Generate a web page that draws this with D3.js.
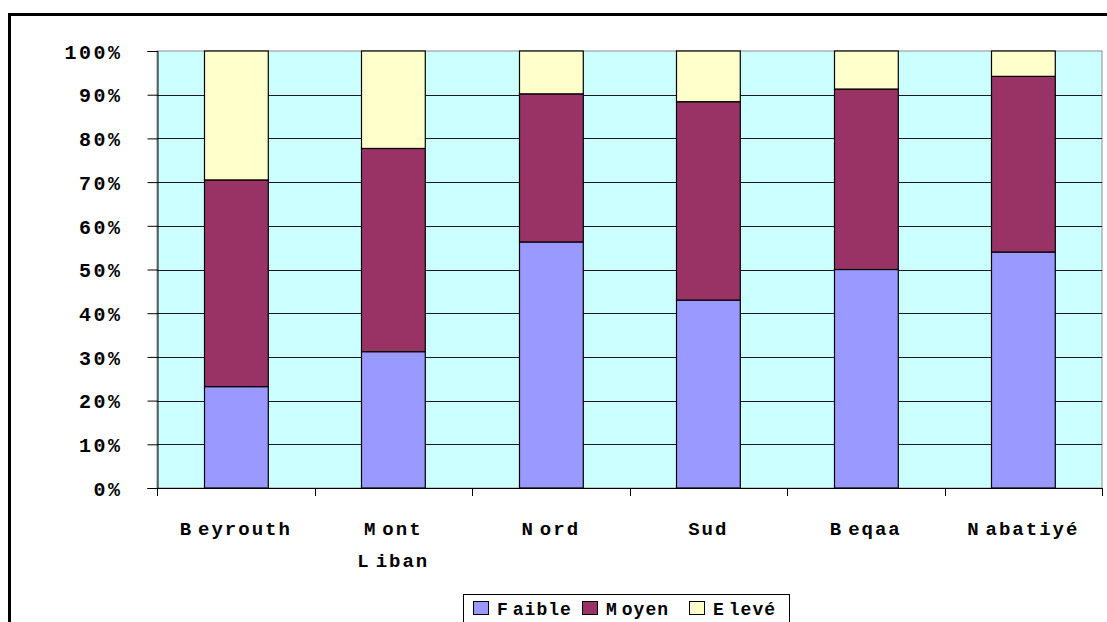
<!DOCTYPE html>
<html>
<head>
<meta charset="utf-8">
<script src="https://d3js.org/d3.v7.min.js"></script>
<style>
  body { margin:0; background:#fff; }
  svg text { font-family:'Liberation Mono', 'DejaVu Sans Mono', monospace; font-weight:bold; fill:#000; }
</style>
</head>
<body>
<div id="chart"></div>
<script>
// regions and shares (%)
var regions = [["Beyrouth"], ["Mont", "Liban"], ["Nord"], ["Sud"], ["Beqaa"], ["Nabatiyé"]];
var faible = [23.2, 31.2, 56.3, 43.0, 50.0, 54.0];
var moyen  = [47.3, 46.5, 33.9, 45.4, 41.3, 40.2];
var eleve  = [29.5, 22.3, 9.8, 11.6, 8.7, 5.8];
var seriesNames = ["Faible", "Moyen", "Elevé"];
var seriesColors = ["#9999ff", "#993366", "#ffffcc"];
var yTicks = [0, 10, 20, 30, 40, 50, 60, 70, 80, 90, 100];

var W = 1107, H = 622;
var plot = {left: 157, right: 1102, top: 51, bottom: 488};

var svg = d3.select("#chart").append("svg")
  .attr("width", W).attr("height", H);

// outer frame
svg.append("rect")
  .attr("x", 9.5).attr("y", 14.5)
  .attr("width", 1200).attr("height", 700)
  .attr("fill", "none").attr("stroke", "#000").attr("stroke-width", 3);

var x = d3.scaleBand()
  .domain(d3.range(regions.length))
  .range([plot.left, plot.right])
  .padding(0);

var y = d3.scaleLinear()
  .domain([0, 100])
  .range([plot.bottom, plot.top]);

// plot background
svg.append("rect")
  .attr("x", plot.left).attr("y", plot.top)
  .attr("width", plot.right - plot.left).attr("height", plot.bottom - plot.top)
  .attr("fill", "#ccffff")
  .attr("stroke", "#8c8c8c").attr("stroke-width", 1);

// gridlines
svg.append("g").selectAll("line")
  .data(yTicks.filter(function(d){ return d > 0 && d < 100; }))
  .enter().append("line")
    .attr("x1", plot.left).attr("x2", plot.right)
    .attr("y1", function(d){ return Math.round(y(d)) + 0.5; })
    .attr("y2", function(d){ return Math.round(y(d)) + 0.5; })
    .attr("stroke", "#1a1a1a").attr("stroke-width", 1);

// y axis
var yAxis = svg.append("g")
  .attr("transform", "translate(" + (plot.left + 0.5) + ",0)")
  .call(d3.axisLeft(y).tickValues(yTicks).tickSize(10).tickPadding(25)
    .tickFormat(function(d){ return d + "%"; }));
yAxis.select(".domain").attr("stroke", "#000");
yAxis.selectAll(".tick line").attr("stroke", "#000");
yAxis.selectAll(".tick text")
  .style("font-size", "20px").style("letter-spacing", "2.5px")
  .attr("dy", "0.36em");

// x axis line and ticks at category boundaries
svg.append("line")
  .attr("x1", plot.left).attr("x2", plot.right)
  .attr("y1", plot.bottom + 0.5).attr("y2", plot.bottom + 0.5)
  .attr("stroke", "#000");
svg.append("g").selectAll("line")
  .data(d3.range(regions.length + 1))
  .enter().append("line")
    .attr("x1", function(i){ return Math.round(plot.left + i * x.step()) + 0.5; })
    .attr("x2", function(i){ return Math.round(plot.left + i * x.step()) + 0.5; })
    .attr("y1", plot.bottom).attr("y2", plot.bottom + 8)
    .attr("stroke", "#000");

// stacked bars
var rows = regions.map(function(r, i){
  return {i: i, Faible: faible[i], Moyen: moyen[i], "Elevé": eleve[i]};
});
var stack = d3.stack().keys(seriesNames)(rows);
var barW = x.bandwidth() * 0.405;

svg.append("g").selectAll("g")
  .data(stack)
  .enter().append("g")
    .attr("fill", function(d, k){ return seriesColors[k]; })
  .selectAll("rect")
  .data(function(d){ return d; })
  .enter().append("rect")
    .attr("x", function(d){ return Math.round(x(d.data.i) + (x.bandwidth() - barW) / 2) + 0.5; })
    .attr("y", function(d){ return y(d[1]); })
    .attr("width", barW)
    .attr("height", function(d){ return y(d[0]) - y(d[1]); })
    .attr("stroke", "#000").attr("stroke-width", 1.2);

// label helper: small gap after some capitals, like the original rendering
function spaced(sel, word, gap) {
  var g = "BMLNFE".indexOf(word.charAt(0)) >= 0 ? gap : 0;
  sel.append("tspan").text(word.charAt(0));
  sel.append("tspan").attr("dx", g).text(word.slice(1));
}

// category labels
regions.forEach(function(lines, i){
  lines.forEach(function(line, j){
    var t = svg.append("text")
      .attr("x", x(i) + x.bandwidth() / 2)
      .attr("y", 535 + j * 32)
      .attr("text-anchor", "middle")
      .style("font-size", "19px").style("letter-spacing", "2px");
    spaced(t, line, 5);
  });
});

// legend
var legend = svg.append("g");
legend.append("rect")
  .attr("x", 463.5).attr("y", 594.5)
  .attr("width", 326).attr("height", 30)
  .attr("fill", "#fff").attr("stroke", "#000").attr("stroke-width", 1);
var legX = [473, 582, 689];
seriesNames.forEach(function(name, k){
  legend.append("rect")
    .attr("x", legX[k] + 0.5).attr("y", 601.5)
    .attr("width", 15).attr("height", 13)
    .attr("fill", seriesColors[k]).attr("stroke", "#000");
  var t = legend.append("text")
    .attr("x", legX[k] + 24).attr("y", 615)
    .style("font-size", "18px").style("letter-spacing", "1px");
  spaced(t, name, 4);
});
</script>
</body>
</html>
